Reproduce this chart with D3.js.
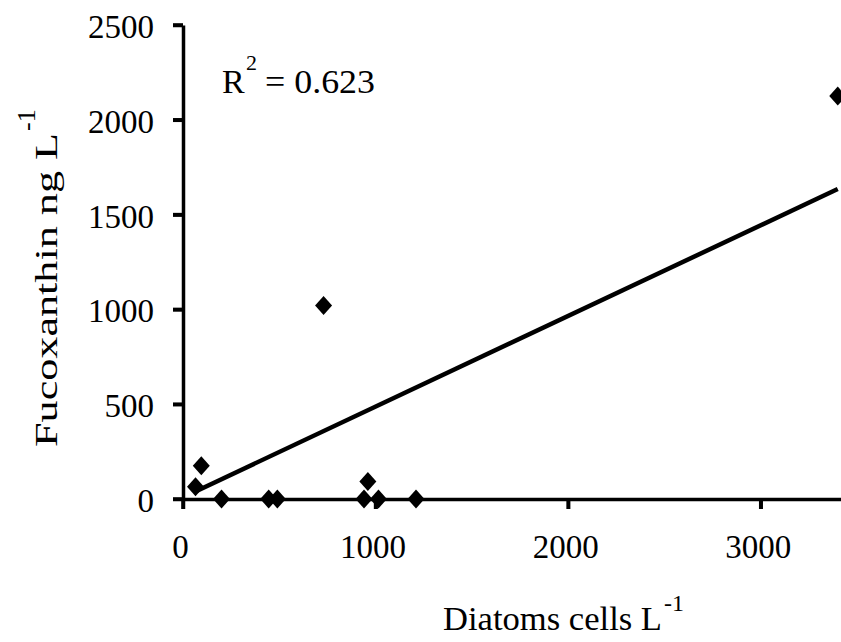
<!DOCTYPE html>
<html>
<head>
<meta charset="utf-8">
<script src="https://cdn.jsdelivr.net/npm/d3@7"></script>
<style>
	html, body { margin: 0; padding: 0; background: #fff; }
	svg { display: block; }
	.axis text { font-family: "Liberation Serif", "Times New Roman", serif; font-size: 33px; fill: #000; }
	.lbl { font-family: "Liberation Serif", "Times New Roman", serif; fill: #000; }
</style>
</head>
<body>
<svg id="chart" width="841" height="642"></svg>
<script>
// values
var diatoms = [3400, 730, 95, 65, 200, 445, 490, 960, 940, 1015, 1210];
var fucoxanthin = [2125, 1020, 175, 65, 0, 0, 0, 92, 0, 0, 0];
var trendX = [65, 3400];
var trendY = [40, 1635];
var xTicks = [0, 1000, 2000, 3000];
var yTicks = [0, 500, 1000, 1500, 2000, 2500];
var r2Label = '0.623';

var svg = d3.select('#chart');

var x = d3.scaleLinear().domain([0, 3500]).range([183, 857]);
var y = d3.scaleLinear().domain([0, 2500]).range([499, 25]);
var fmt = d3.format('d');

//Y axis
var yAxis = d3.axisLeft(y).tickValues(yTicks).tickFormat(fmt)
	.tickSizeInner(10).tickSizeOuter(0).tickPadding(19);
var yAxisGroup = svg.append('g')
	.attr('class', 'axis')
	.attr('transform', 'translate(' + x(0) + ',0)')
	.call(yAxis);
yAxisGroup.selectAll('text').attr('dy', '0.38em');

//X axis
var xAxis = d3.axisBottom(x).tickValues(xTicks).tickFormat(fmt)
	.tickSizeInner(10).tickSizeOuter(0).tickPadding(26);
var xAxisGroup = svg.append('g')
	.attr('class', 'axis')
	.attr('transform', 'translate(0,' + y(0) + ')')
	.call(xAxis);
xAxisGroup.selectAll('text').attr('dx', -3).attr('dy', '0.71em');

svg.selectAll('.axis path, .axis line')
	.attr('stroke', '#000')
	.attr('stroke-width', 3.5);

// tick marks drawn again so they stay heavy like the original
svg.append('g').selectAll('line')
	.data(yTicks).enter().append('line')
	.attr('x1', x(0) - 10).attr('x2', x(0))
	.attr('y1', function (d) { return y(d); })
	.attr('y2', function (d) { return y(d); })
	.attr('stroke', '#000').attr('stroke-width', 3.5);
svg.append('g').selectAll('line')
	.data(xTicks).enter().append('line')
	.attr('y1', y(0)).attr('y2', y(0) + 10)
	.attr('x1', function (d) { return x(d); })
	.attr('x2', function (d) { return x(d); })
	.attr('stroke', '#000').attr('stroke-width', 3.5);

// trend line
var line = d3.line()
	.x(function (d) { return x(d[0]); })
	.y(function (d) { return y(d[1]); });
svg.append('path')
	.datum(d3.zip(trendX, trendY))
	.attr('d', line)
	.attr('fill', 'none')
	.attr('stroke', '#000')
	.attr('stroke-width', 4.5);

// diamonds
var diamond = d3.symbol().type(d3.symbolDiamond2 || d3.symbolDiamond).size(184);
svg.append('g').selectAll('path')
	.data(d3.zip(diatoms, fucoxanthin))
	.enter().append('path')
	.attr('d', diamond)
	.attr('fill', '#000')
	.attr('transform', function (d) {
		return 'translate(' + x(d[0]) + ',' + y(d[1]) + ') scale(1,1.12)';
	});

// R squared
var r2 = svg.append('g').attr('class', 'lbl');
r2.append('text').attr('x', 222).attr('y', 93).attr('font-size', 34).text('R');
r2.append('text').attr('x', 246).attr('y', 70).attr('font-size', 22).text('2');
r2.append('text').attr('x', 265).attr('y', 93).attr('font-size', 34)
	.attr('textLength', 110).attr('lengthAdjust', 'spacingAndGlyphs')
	.text('= ' + r2Label);

// x title
svg.append('text').attr('class', 'lbl')
	.attr('x', 443).attr('y', 630).attr('font-size', 33)
	.attr('textLength', 219).attr('lengthAdjust', 'spacingAndGlyphs')
	.text('Diatoms cells L');
svg.append('text').attr('class', 'lbl')
	.attr('x', 664).attr('y', 611).attr('font-size', 24)
	.text('-1');

// y title
svg.append('text').attr('class', 'lbl')
	.attr('transform', 'translate(57,447) rotate(-90)')
	.attr('font-size', 31)
	.attr('textLength', 314).attr('lengthAdjust', 'spacingAndGlyphs')
	.text('Fucoxanthin ng L');
svg.append('text').attr('class', 'lbl')
	.attr('transform', 'translate(35,131) rotate(-90)')
	.attr('font-size', 26)
	.text('-1');
</script>
</body>
</html>
